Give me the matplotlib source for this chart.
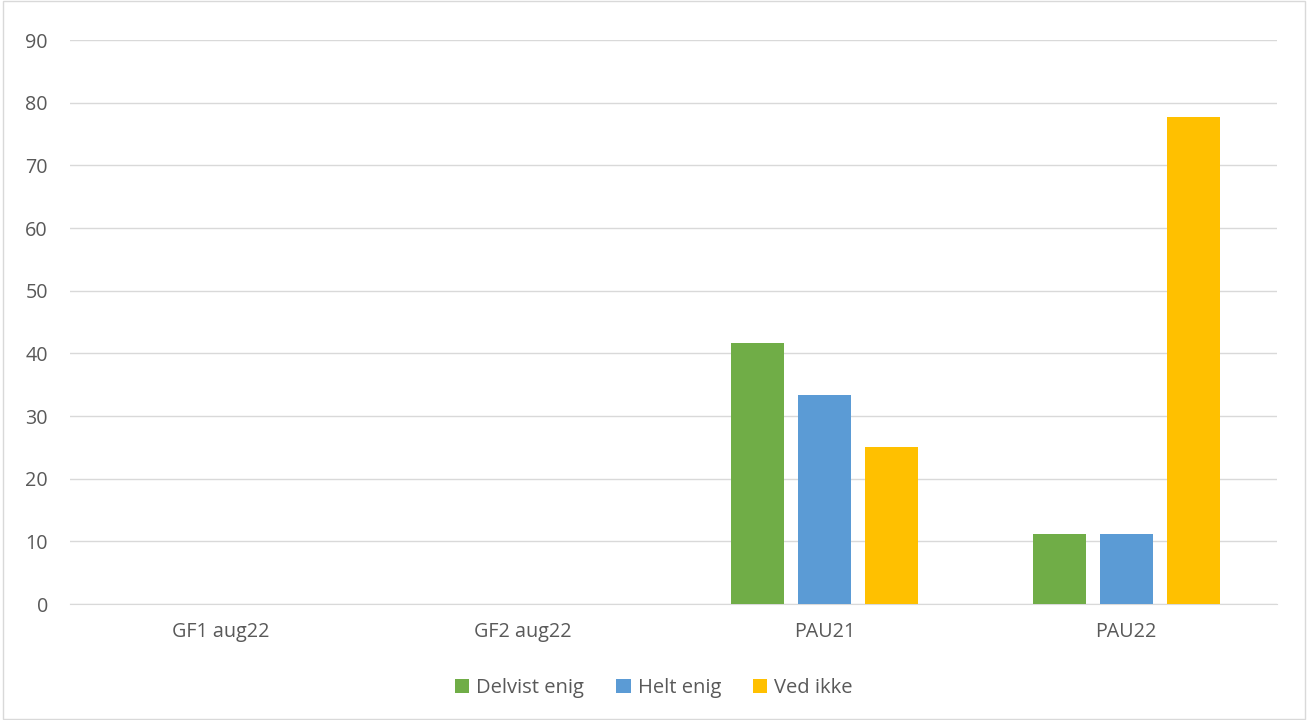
import numpy as np
import matplotlib
matplotlib.use("Agg")
import matplotlib.pyplot as plt
from matplotlib.patches import Rectangle

# Data
categories = ["GF1 aug22", "GF2 aug22", "PAU21", "PAU22"]
series_names = ["Delvist enig", "Helt enig", "Ved ikke"]
delvist_enig = [0, 0, 41.67, 11.11]
helt_enig = [0, 0, 33.33, 11.11]
ved_ikke = [0, 0, 25.0, 77.78]
yticks = [0, 10, 20, 30, 40, 50, 60, 70, 80, 90]

colors = ["#70AD47", "#5B9BD5", "#FFC000"]
text_color = "#595959"

plt.rcParams['font.family'] = ['Open Sans', 'DejaVu Sans']

fig = plt.figure(figsize=(13.08, 7.2), dpi=100)
ax = fig.add_axes([70 / 1308, 1 - 604 / 720, 1207 / 1308, 564 / 720])

x = np.arange(len(categories))
width = 0.176
step = 0.222
for i, (vals, name) in enumerate(zip([delvist_enig, helt_enig, ved_ikke], series_names)):
    ax.bar(x + (i - 1) * step, vals, width, color=colors[i], label=name, zorder=3)

ax.set_xlim(-0.5, len(categories) - 0.5)
ax.set_ylim(0, 90)
ax.set_yticks(yticks)
ax.set_xticks(x)
ax.set_xticklabels(categories)
ax.yaxis.grid(True, color="#D9D9D9", linewidth=1, zorder=0)
ax.tick_params(axis='both', length=0, labelsize=14.2, colors=text_color)
ax.tick_params(axis='y', pad=16)
ax.tick_params(axis='x', pad=13)
for s in ["top", "right", "left"]:
    ax.spines[s].set_visible(False)
ax.spines["bottom"].set_color("#D9D9D9")

leg = fig.legend(loc="center", bbox_to_anchor=(0.5, 1 - 688 / 720), ncol=3,
                 frameon=False, fontsize=14.5, handlelength=0.7, handleheight=0.7,
                 handletextpad=0.35, columnspacing=1.6)
for t in leg.get_texts():
    t.set_color(text_color)

fig.patches.append(Rectangle((0.002, 0.002), 0.996, 0.996, transform=fig.transFigure,
                             fill=False, edgecolor="#D9D9D9", linewidth=1))

fig.savefig("out.png", dpi=100)
